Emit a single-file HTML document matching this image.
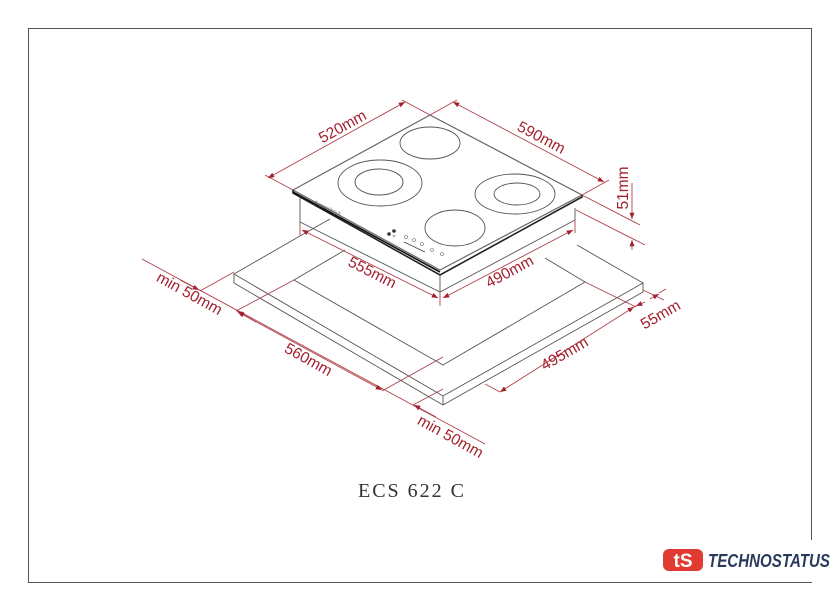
<!DOCTYPE html>
<html><head><meta charset="utf-8"><style>
html,body{margin:0;padding:0;background:#fff;}
svg{display:block;}
.r{stroke:#b0404a;stroke-width:0.9;fill:none;}
.g{stroke:#555;stroke-width:0.9;fill:none;}
.t{font-family:"Liberation Sans",sans-serif;font-size:15.5px;fill:#a3202e;}
</style></head><body>
<svg width="840" height="611" viewBox="0 0 840 611" xmlns="http://www.w3.org/2000/svg">
<defs>
<marker id="a" viewBox="0 0 10 10" refX="10" refY="5" markerWidth="7" markerHeight="7" orient="auto-start-reverse"><path d="M0,1 L10,5 L0,9z" fill="#a3202e"/></marker>
</defs>
<rect x="28.5" y="28.5" width="783" height="554" fill="none" stroke="#555" stroke-width="1"/>

<g class="g">
<polyline points="300,236 234,274 443,396 643,283 577,245"/>
<polyline points="234,274 234,283 443,405 643,292 643,283"/>
<line x1="443" y1="396" x2="443" y2="405"/>
<polyline points="345,250 294,280 443,365 585,282 545,258"/>
<line x1="300" y1="236" x2="330" y2="219"/>
</g>

<g class="g">
<polyline points="300,198 300,222 440,292 575,220 575,208"/>
<line x1="440" y1="275" x2="440" y2="292"/>
</g>
<polygon points="293,190 430,115 582,195 440,270" fill="#fff" stroke="#666" stroke-width="1.2"/>
<polyline points="293,190 293,193 440,275 582,197 582,195" fill="none" stroke="#222" stroke-width="1.6"/>
<line x1="293" y1="192" x2="440" y2="272" stroke="#111" stroke-width="1.6"/>
<g class="g" stroke-width="0.8">
<ellipse cx="430" cy="143" rx="30" ry="16"/>
<ellipse cx="380" cy="183" rx="42" ry="23"/>
<ellipse cx="379" cy="182" rx="24" ry="13"/>
<ellipse cx="515" cy="194" rx="40" ry="20"/>
<ellipse cx="517" cy="194" rx="23" ry="11"/>
<ellipse cx="455" cy="228" rx="30" ry="18"/>
</g>
<text x="314" y="205" font-family="Liberation Serif" font-size="5" font-style="italic" fill="#555" transform="rotate(25 318 204)">Kuppersbusch</text>
<circle cx="389" cy="234" r="1.8" fill="#333"/><circle cx="394" cy="231" r="1.8" fill="#333"/><circle cx="394" cy="236" r="1.5" fill="#bbb"/>
<g fill="none" stroke="#666" stroke-width="0.6"><circle cx="406" cy="237" r="1.5"/><circle cx="414" cy="240" r="1.5"/><circle cx="422" cy="244" r="1.5"/><circle cx="432" cy="250" r="1.5"/><circle cx="442" cy="254" r="1.5"/></g>
<line x1="404" y1="242" x2="425" y2="252" stroke="#444" stroke-width="0.8"/>

<g class="r">
<line x1="293" y1="190" x2="265" y2="175"/>
<line x1="430" y1="115" x2="402" y2="100"/>
<line x1="268" y1="178" x2="405" y2="102" marker-start="url(#a)" marker-end="url(#a)"/>
<line x1="430" y1="115" x2="457" y2="100"/>
<line x1="582" y1="195" x2="609" y2="180"/>
<line x1="453" y1="102" x2="604" y2="182" marker-start="url(#a)" marker-end="url(#a)"/>
<line x1="582" y1="195" x2="640" y2="225"/>
<line x1="576" y1="210" x2="645" y2="245"/>
<line x1="632" y1="183" x2="632" y2="219" marker-end="url(#a)"/>
<line x1="632" y1="250" x2="632" y2="240" marker-end="url(#a)"/>
<line x1="300" y1="222" x2="300" y2="235"/>
<line x1="302" y1="230" x2="438" y2="298" marker-start="url(#a)" marker-end="url(#a)"/>
<line x1="440" y1="292" x2="440" y2="306"/>
<line x1="575" y1="220" x2="575" y2="233"/>
<line x1="443" y1="298" x2="573" y2="230" marker-start="url(#a)" marker-end="url(#a)"/>
<line x1="142" y1="259" x2="485" y2="444"/>
<line x1="180" y1="280" x2="199" y2="290" marker-end="url(#a)"/>
<line x1="256" y1="322" x2="237" y2="311" marker-end="url(#a)"/>
<line x1="238" y1="312" x2="382" y2="390" marker-start="url(#a)" marker-end="url(#a)"/>
<line x1="436" y1="417" x2="414" y2="405" marker-end="url(#a)"/>
<line x1="200" y1="291" x2="234" y2="272"/>
<line x1="236" y1="311" x2="294" y2="280"/>
<line x1="382" y1="391" x2="443" y2="357"/>
<line x1="413" y1="405" x2="443" y2="389"/>
<line x1="585" y1="282" x2="636" y2="307"/>
<line x1="643" y1="290" x2="664" y2="300"/>
<line x1="500" y1="392" x2="634" y2="307" marker-start="url(#a)" marker-end="url(#a)"/>
<line x1="628" y1="310" x2="636" y2="306"/>
<line x1="666" y1="289" x2="659" y2="293"/>
<line x1="645" y1="302" x2="636" y2="306" marker-end="url(#a)"/>
<line x1="650" y1="299" x2="659" y2="294" marker-end="url(#a)"/>
<line x1="500" y1="392" x2="485" y2="384"/>
</g>
<g class="t">
<text transform="translate(345,131) rotate(-29)" text-anchor="middle">520mm</text>
<text transform="translate(539,142) rotate(28)" text-anchor="middle">590mm</text>
<text transform="translate(628,188) rotate(-90)" text-anchor="middle">51mm</text>
<text transform="translate(370,277) rotate(27)" text-anchor="middle">555mm</text>
<text transform="translate(512,276) rotate(-28)" text-anchor="middle">490mm</text>
<text transform="translate(187,298) rotate(29)" text-anchor="middle">min 50mm</text>
<text transform="translate(306,364) rotate(29)" text-anchor="middle">560mm</text>
<text transform="translate(567,358) rotate(-30)" text-anchor="middle">495mm</text>
<text transform="translate(663,319) rotate(-30)" text-anchor="middle">55mm</text>
<text transform="translate(448,441) rotate(29)" text-anchor="middle">min 50mm</text>
</g>
<text x="412" y="497" text-anchor="middle" font-family="Liberation Serif" font-size="20" letter-spacing="2" fill="#333">ECS 622 C</text>

<rect x="655" y="540" width="185" height="42" fill="#fff"/>
<rect x="663" y="549" width="40" height="22" rx="6" fill="#e03a32"/>
<text x="683" y="567" text-anchor="middle" font-family="Liberation Sans" font-weight="bold" font-size="19" fill="#fff">tS</text>
<text x="708" y="567" font-family="Liberation Sans" font-weight="bold" font-style="italic" font-size="18" fill="#2a3a5c" textLength="122" lengthAdjust="spacingAndGlyphs">TECHNOSTATUS</text>
</svg>
</body></html>
